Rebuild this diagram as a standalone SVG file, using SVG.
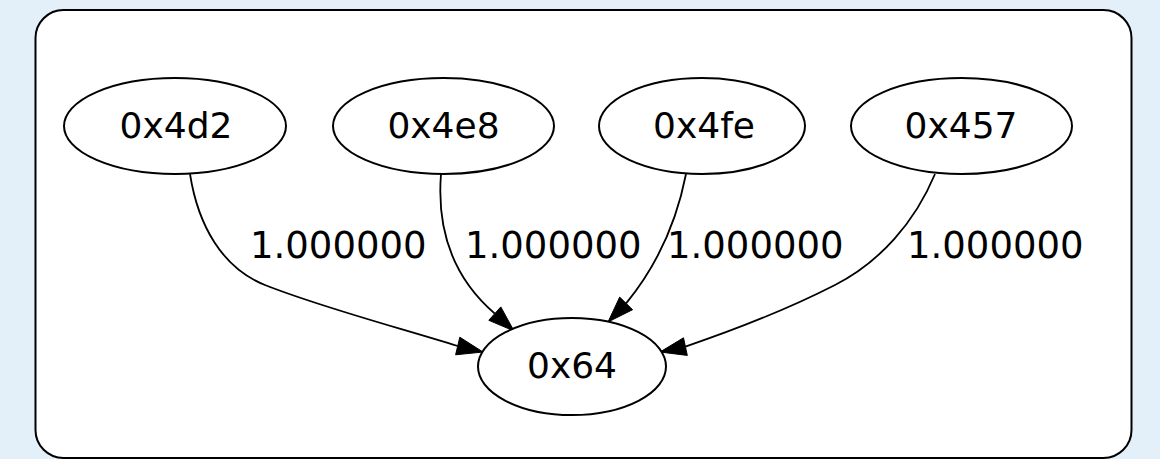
<svg xmlns="http://www.w3.org/2000/svg" width="1160" height="459" viewBox="0 0 1160 459">
<style>
.node ellipse{fill:#ffffff;stroke:#000000;stroke-width:2}
.node text{font-family:"DejaVu Sans",sans-serif;font-size:36px;fill:#000000;text-anchor:middle}
.edge path{fill:none;stroke:#000000;stroke-width:1.8}
.edge polygon{fill:#000000;stroke:#000000;stroke-width:1}
.lbl{font-family:"DejaVu Sans",sans-serif;font-size:37px;fill:#000000}
</style>
<rect x="0" y="0" width="1160" height="459" fill="#e3f0fa"/>
<rect x="35.5" y="10" width="1096" height="448" rx="28" ry="28" fill="#ffffff" stroke="#000000" stroke-width="2"/>
<g id="connectors">
<g class="edge" id="e1">
<path d="M190,174 C198,225 222,268 265,285 C320,307 400,328 457.7,346"/>
<polygon points="483,352 459.8,337.2 455.6,354.8"/>
<text class="lbl" x="250" y="258">1.000000</text>
</g>
<g class="edge" id="e2">
<path d="M441,174 C437,225 450,275 494.8,313.6"/>
<polygon points="514,331 488.8,320.3 500.8,306.9"/>
<text class="lbl" x="465" y="258">1.000000</text>
</g>
<g class="edge" id="e3">
<path d="M686,174 C678,215 660,262 626.1,303.4"/>
<polygon points="608,322 632.6,309.7 619.7,297.1"/>
<text class="lbl" x="667" y="258">1.000000</text>
</g>
<g class="edge" id="e4">
<path d="M935,174 C915,222 880,262 835,285 C790,308 740,328 685.4,346.6"/>
<polygon points="660,352 687.3,355.4 683.5,337.8"/>
<text class="lbl" x="907" y="258">1.000000</text>
</g>
</g>
<g class="node" id="n_0x4d2"><ellipse cx="175" cy="126" rx="111" ry="48"/><text x="176" y="138">0x4d2</text></g>
<g class="node" id="n_0x4e8"><ellipse cx="443.5" cy="126" rx="110.5" ry="48"/><text x="443.5" y="138">0x4e8</text></g>
<g class="node" id="n_0x4fe"><ellipse cx="702" cy="126" rx="103" ry="48"/><text x="704" y="138">0x4fe</text></g>
<g class="node" id="n_0x457"><ellipse cx="961.5" cy="126" rx="110.5" ry="48"/><text x="961" y="138">0x457</text></g>
<g class="node" id="n_0x64"><ellipse cx="572" cy="366.5" rx="94" ry="48.5"/><text x="572" y="378">0x64</text></g>
</svg>
